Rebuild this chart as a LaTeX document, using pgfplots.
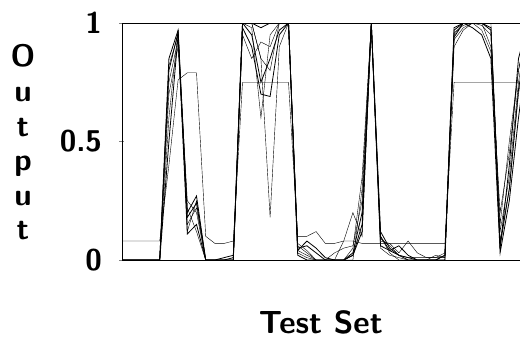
\documentclass[border=0pt]{standalone}
\usepackage{pgfplots}
\usepackage{pgfplotstable}
\pgfplotsset{compat=1.18}
\pgfplotstableread{
i  T     A     B     C     D     E     F     G
0  0.08  0     0     0     0     0     0     0
1  0.08  0     0     0     0     0     0     0
2  0.08  0     0     0     0     0     0     0
3  0.08  0     0     0     0     0     0     0
4  0.08  0     0     0     0     0     0     0
5  0.40  0.85  0.82  0.60  0.50  0.70  0.75  0.80
6  0.76  0.97  0.95  0.97  0.95  0.90  0.93  0.96
7  0.79  0.20  0.12  0.15  0.11  0.22  0.25  0.18
8  0.79  0.27  0.25  0.22  0.15  0.12  0.20  0.24
9  0.10  0     0     0     0     0     0     0
10 0.07  0     0     0     0     0     0     0
11 0.07  0.01  0     0     0     0     0     0
12 0.08  0.02  0     0     0.01  0     0     0
13 0.75  1     1     1     0.98  1     0.95  1
14 0.75  1     0.98  1     0.90  1     0.85  0.95
15 0.75  0.98  0.60  0.85  0.70  0.85  0.92  0.75
16 0.75  1     0.95  0.18  0.69  0.80  0.90  0.85
17 0.75  1     1     0.90  0.95  1     1     0.97
18 0.75  1     1     1     1     1     1     1
19 0.10  0.02  0.04  0.07  0.05  0.03  0.06  0.04
20 0.10  0     0.02  0.04  0.06  0.01  0.03  0.08
21 0.12  0     0     0     0.03  0     0     0.05
22 0.07  0     0     0     0     0     0     0.01
23 0.07  0     0     0     0     0.03  0     0
24 0.08  0     0     0.08  0     0.05  0     0
25 0.08  0.02  0     0.20  0.03  0.06  0.05  0.02
26 0.07  0.15  0.30  0.10  0.20  0.25  0.35  0.12
27 0.07  1     1     0.98  1     1     1     1
28 0.07  0.12  0.08  0.10  0.06  0.05  0.09  0.10
29 0.07  0.05  0.07  0.03  0.04  0.02  0.06  0.04
30 0.07  0.02  0.03  0     0.06  0.01  0.02  0.02
31 0.07  0.01  0.08  0     0.02  0     0.01  0
32 0.07  0     0.03  0     0     0     0.01  0
33 0.07  0     0.01  0     0     0     0.01  0
34 0.07  0     0.01  0     0     0.02  0.01  0
35 0.07  0.02  0.03  0     0.02  0.01  0.01  0
36 0.75  0.97  0.93  0.95  0.98  0.96  0.90  0.94
37 0.75  1     0.98  1     1     0.99  0.97  1
38 0.75  1     1     1     0.98  1     1     1
39 0.75  1     0.99  1     0.95  1     0.97  1
40 0.75  0.98  0.95  0.90  0.85  1     0.88  0.97
41 0.75  0.05  0.15  0.08  0.03  0.12  0.20  0.06
42 0.75  0.40  0.50  0.30  0.25  0.35  0.45  0.30
43 0.75  0.85  0.80  0.70  0.60  0.75  0.80  0.72
44 0.75  1     1     0.95  0.90  1     1     0.95
}\data
\begin{document}
\begin{tikzpicture}
\begin{axis}[
  scale only axis, width=405.7pt, height=237pt,
  xmin=-0.1, xmax=44, ymin=0, ymax=1,
  xtick=\empty, ytick={0,0.5,1}, yticklabels={0,0.5,1},
  yticklabel style={font=\fontsize{30}{32}\selectfont\sffamily\bfseries, xshift=-14pt},
  tick align=center, major tick length=5pt, ytick pos=left,
  axis line style={line width=0.9pt},
  cycle list={{black,line width=0.8pt,mark=none}},
  xlabel={Test Set},
  xlabel style={font=\fontsize{32}{34}\selectfont\sffamily\bfseries, at={(axis description cs:0.49,0)}, anchor=center, yshift=-62pt},
  ylabel={\begin{tabular}{@{}c@{}}O\\u\\t\\p\\u\\t\end{tabular}},
  ylabel style={font=\fontsize{31}{34.6}\selectfont\sffamily\bfseries, rotate=-90, at={(axis description cs:0,0.5)}, anchor=center, xshift=-99pt, yshift=-5pt},
]
\addplot table[x=i,y=T] {\data};
\addplot table[x=i,y=A] {\data};
\addplot table[x=i,y=B] {\data};
\addplot table[x=i,y=C] {\data};
\addplot table[x=i,y=D] {\data};
\addplot table[x=i,y=E] {\data};
\addplot table[x=i,y=F] {\data};
\addplot table[x=i,y=G] {\data};
\coordinate (o) at (rel axis cs:0,0);
\end{axis}
\pgfresetboundingbox
\path (o) ++(-122pt,-81pt) rectangle ++(520pt,341pt);
\end{tikzpicture}
\end{document}
